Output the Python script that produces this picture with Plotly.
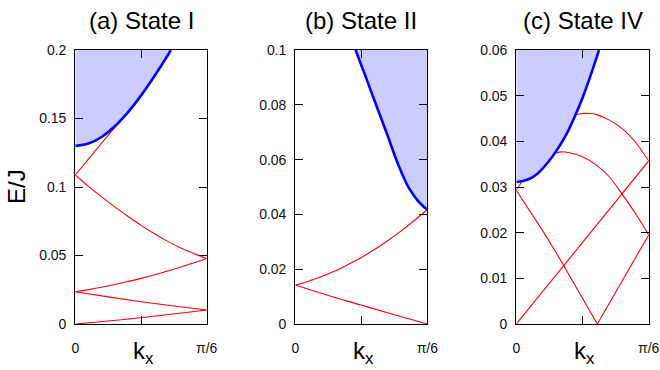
import plotly.graph_objects as go

# ---------------- data (kx in units of pi/6, E in units of J) ----------------
titles = ["(a) State I", "(b) State II", "(c) State IV"]
x_tickvals = [0, 1]
x_ticktext = ["0", "π/6"]
x_minor_ticks = [0.5]

a_yticks = [0, 0.05, 0.1, 0.15, 0.2]
a_yticktext = ["0", "0.05", "0.1", "0.15", "0.2"]
b_yticks = [0, 0.02, 0.04, 0.06, 0.08, 0.1]
b_yticktext = ["0", "0.02", "0.04", "0.06", "0.08", "0.1"]
c_yticks = [0, 0.01, 0.02, 0.03, 0.04, 0.05, 0.06]
c_yticktext = ["0", "0.01", "0.02", "0.03", "0.04", "0.05", "0.06"]

# Panel (a)
a_gap_k = [0, 0.1, 0.2, 0.3, 0.4, 0.5, 0.6, 0.7, 0.727]
a_gap_E = [0.130, 0.1317, 0.1365, 0.1443, 0.1545, 0.1667, 0.1806, 0.1956, 0.200]
a_up_k = [0, 0.1, 0.2, 0.327]
a_up_E = [0.1088, 0.1203, 0.1320, 0.1465]
a_down_k = [0, 0.1, 0.2, 0.3, 0.4, 0.5, 0.6, 0.7, 0.8, 0.9, 1.0]
a_down_E = [0.1088, 0.1005, 0.0928, 0.0855, 0.0786, 0.0720, 0.0660, 0.0605, 0.0556, 0.0515, 0.0478]
a_mid_up_k = [0, 0.1, 0.2, 0.3, 0.4, 0.5, 0.6, 0.7, 0.8, 0.9, 1.0]
a_mid_up_E = [0.0236, 0.0251, 0.0268, 0.0288, 0.0310, 0.0333, 0.0358, 0.0386, 0.0415, 0.0446, 0.0478]
a_mid_dn_k = [0, 0.25, 0.5, 0.75, 1.0]
a_mid_dn_E = [0.0236, 0.0198, 0.0163, 0.0131, 0.0102]
a_low_k = [0, 0.5, 1.0]
a_low_E = [0, 0.0046, 0.0102]

# Panel (b)
b_gap_k = [0.457, 0.535, 0.612, 0.69, 0.765, 0.80, 0.835, 0.865, 0.894, 0.92, 0.945, 0.97, 1.0]
b_gap_E = [0.100, 0.090, 0.080, 0.070, 0.060, 0.0558, 0.0520, 0.0493, 0.0472, 0.0455, 0.0441, 0.0429, 0.0418]
b_up_k = [0, 0.1, 0.2, 0.3, 0.4, 0.5, 0.6, 0.7, 0.8, 0.9, 1.0]
b_up_E = [0.0142, 0.0156, 0.0173, 0.0193, 0.0217, 0.0243, 0.0272, 0.0304, 0.0339, 0.0377, 0.0418]
b_dn_k = [0, 0.25, 0.5, 0.75, 1.0]
b_dn_E = [0.0142, 0.0104, 0.0069, 0.0034, 0]

# Panel (c)
c_gap_k = [0, 0.05, 0.1, 0.15, 0.2, 0.25, 0.3, 0.35, 0.4, 0.45, 0.5, 0.55, 0.6, 0.625]
c_gap_E = [0.0311, 0.0313, 0.0318, 0.0327, 0.0341, 0.0358, 0.0378, 0.0401, 0.0428, 0.0460, 0.0495, 0.0535, 0.0578, 0.0600]
c_line_k = [0, 1.0]
c_line_E = [0, 0.0357]
c_v_k = [0, 0.1, 0.2, 0.3, 0.4, 0.5, 0.612, 1.0]
c_v_E = [0.0293, 0.0249, 0.0204, 0.0157, 0.0107, 0.0056, 0, 0.0195]
c_stub_k = [0, 0.045]
c_stub_E = [0.0293, 0.0313]
c_low_k = [0.28, 0.34, 0.4, 0.5, 0.6, 0.7, 0.8, 0.9, 1.0]
c_low_E = [0.0373, 0.0377, 0.0375, 0.0366, 0.0349, 0.0323, 0.0284, 0.0242, 0.0195]
c_up_k = [0.443, 0.5, 0.55, 0.6, 0.7, 0.8, 0.9, 1.0]
c_up_E = [0.0458, 0.0461, 0.0461, 0.0459, 0.0447, 0.0428, 0.0398, 0.0357]

# ---------------- figure ----------------
W, H = 660, 370
FONT = "Liberation Sans, Arial, sans-serif"
FILL = "rgb(204,204,255)"
BLUE = "#0000ff"
RED = "#ff0000"

fig = go.Figure()

def red(k, E, xa, ya, shape="spline"):
    fig.add_trace(go.Scatter(x=k, y=E, xaxis=xa, yaxis=ya, mode="lines",
                             line=dict(color=RED, width=1.1, shape=shape),
                             hoverinfo="skip", showlegend=False))

def gap(k, E, close_k, close_E, xa, ya):
    fig.add_trace(go.Scatter(x=list(k) + close_k, y=list(E) + close_E, xaxis=xa, yaxis=ya,
                             mode="none", fill="toself", fillcolor=FILL,
                             hoverinfo="skip", showlegend=False))

def blue(k, E, xa, ya):
    fig.add_trace(go.Scatter(x=k, y=E, xaxis=xa, yaxis=ya, mode="lines",
                             line=dict(color=BLUE, width=2.6, shape="spline"),
                             hoverinfo="skip", showlegend=False))

# (a)
gap(a_gap_k, a_gap_E, [0], [a_yticks[-1]], "x", "y")
red(a_up_k, a_up_E, "x", "y")
red(a_down_k, a_down_E, "x", "y")
red(a_mid_up_k, a_mid_up_E, "x", "y")
red(a_mid_dn_k, a_mid_dn_E, "x", "y")
red(a_low_k, a_low_E, "x", "y")
blue(a_gap_k, a_gap_E, "x", "y")

# (b)
gap(b_gap_k, b_gap_E, [1.0], [b_yticks[-1]], "x2", "y2")
red(b_up_k, b_up_E, "x2", "y2")
red(b_dn_k, b_dn_E, "x2", "y2")
blue(b_gap_k, b_gap_E, "x2", "y2")

# (c)
gap(c_gap_k, c_gap_E, [0], [c_yticks[-1]], "x3", "y3")
red(c_line_k, c_line_E, "x3", "y3", shape="linear")
red(c_v_k, c_v_E, "x3", "y3", shape="linear")
red(c_stub_k, c_stub_E, "x3", "y3", shape="linear")
red(c_low_k, c_low_E, "x3", "y3")
red(c_up_k, c_up_E, "x3", "y3")
blue(c_gap_k, c_gap_E, "x3", "y3")

x_domains = [(75.3 / W, 206.7 / W), (295.3 / W, 427.3 / W), (516.3 / W, 648.7 / W)]
y_domain = (1 - 324 / H, 1 - 50 / H)
yt = [(a_yticks, a_yticktext), (b_yticks, b_yticktext), (c_yticks, c_yticktext)]

common_axis = dict(showline=True, linecolor="black", linewidth=1.2, mirror="ticks",
                   ticks="inside", ticklen=8, tickwidth=1.2, tickcolor="black",
                   showgrid=False, zeroline=False, automargin=False,
                   tickfont=dict(family=FONT, size=14, color="#111"))

layout = dict(width=W, height=H, margin=dict(l=0, r=0, t=0, b=0, autoexpand=False),
              paper_bgcolor="white", plot_bgcolor="white", showlegend=False)
for i in range(3):
    sfx = "" if i == 0 else str(i + 1)
    layout["xaxis" + sfx] = dict(common_axis, domain=list(x_domains[i]), range=[0, 1],
                                 tickmode="array", tickvals=x_tickvals, ticktext=x_ticktext,
                                 minor=dict(tickmode="array", tickvals=x_minor_ticks, ticks="inside",
                                            ticklen=8, tickwidth=1.2, tickcolor="black", showgrid=False),
                                 anchor="y" + sfx, ticklabelstandoff=11)
    layout["yaxis" + sfx] = dict(common_axis, domain=list(y_domain), range=[yt[i][0][0], yt[i][0][-1]],
                                 tickmode="array", tickvals=yt[i][0], ticktext=yt[i][1],
                                 anchor="x" + sfx, ticklabelstandoff=5)
fig.update_layout(**layout)

annotations = []
for i in range(3):
    cx = (x_domains[i][0] + x_domains[i][1]) / 2
    annotations.append(dict(text=titles[i], x=cx, y=1 - 21 / H, xref="paper", yref="paper",
                            showarrow=False, xanchor="center", yanchor="middle",
                            font=dict(family=FONT, size=24, color="black")))
    annotations.append(dict(text="k<sub>x</sub>", x=cx + 2 / W, y=1 - 352 / H, xref="paper", yref="paper",
                            showarrow=False, xanchor="center", yanchor="middle",
                            font=dict(family=FONT, size=24, color="black")))
annotations.append(dict(text="E/J", x=17 / W, y=1 - 187 / H, xref="paper", yref="paper",
                        showarrow=False, xanchor="center", yanchor="middle", textangle=-90,
                        font=dict(family=FONT, size=24, color="black")))
fig.update_layout(annotations=annotations)

fig.write_html("out.html", config={"displayModeBar": False},
               post_script="document.body.style.margin='0';document.body.style.overflow='hidden';")
